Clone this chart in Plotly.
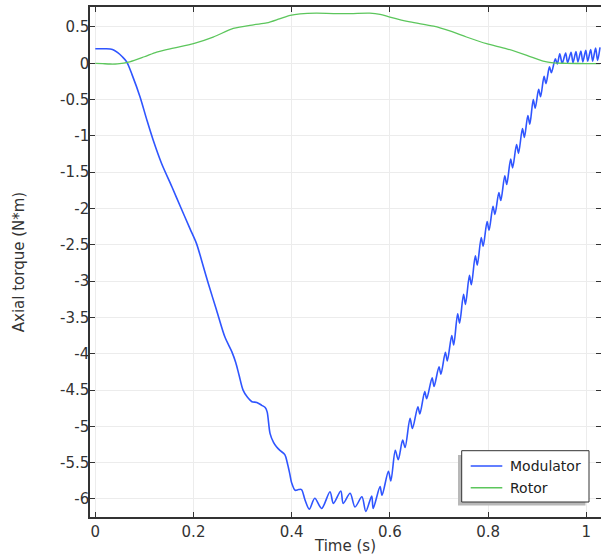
import plotly.graph_objects as go

# ---------------- data ----------------
mod_t = [0.000, 0.020, 0.035, 0.045, 0.055, 0.064, 0.075, 0.091, 0.105, 0.118, 0.135,
         0.156, 0.175, 0.193, 0.206, 0.218, 0.230, 0.247, 0.264, 0.278, 0.286, 0.293,
         0.301, 0.310, 0.319, 0.329, 0.339, 0.346, 0.350, 0.356, 0.363, 0.369, 0.376,
         0.386, 0.391, 0.396, 0.400, 0.407, 0.414, 0.420, 0.427, 0.436,
         0.447, 0.461, 0.478, 0.485, 0.500, 0.505, 0.519, 0.529, 0.543, 0.551,
         0.563, 0.566, 0.580, 0.584, 0.597, 0.602, 0.611, 0.617, 0.626, 0.631,
         0.641, 0.646, 0.657, 0.661, 0.671, 0.675, 0.686, 0.690, 0.700, 0.704,
         0.713, 0.717, 0.726, 0.730, 0.738, 0.742, 0.750, 0.754, 0.762, 0.766,
         0.774, 0.778, 0.786, 0.790, 0.798, 0.802, 0.810, 0.814, 0.822, 0.826,
         0.834, 0.838, 0.846, 0.850, 0.858, 0.862, 0.870, 0.874, 0.881, 0.885,
         0.892, 0.896, 0.903, 0.907, 0.914, 0.918, 0.925, 0.929, 0.937, 0.941,
         0.946, 0.951, 0.958, 0.962, 0.969, 0.973, 0.979, 0.983, 0.989, 0.993,
         0.999, 1.003, 1.009, 1.013, 1.019, 1.023, 1.028]
mod_v = [0.20, 0.20, 0.19, 0.15, 0.09, 0.02, -0.16, -0.46, -0.78, -1.06, -1.38,
         -1.70, -2.00, -2.28, -2.48, -2.75, -3.03, -3.40, -3.77, -3.97, -4.12, -4.30,
         -4.50, -4.60, -4.66, -4.67, -4.71, -4.74, -4.80, -5.10, -5.22, -5.28, -5.33,
         -5.39, -5.50, -5.65, -5.78, -5.88, -5.87, -5.87, -6.01, -6.14,
         -5.99, -6.13, -5.90, -6.06, -5.89, -6.06, -5.92, -6.11, -5.97, -6.17,
         -5.96, -6.13, -5.83, -5.95, -5.62, -5.75, -5.33, -5.46, -5.19, -5.29,
         -4.89, -5.03, -4.73, -4.83, -4.52, -4.62, -4.33, -4.45, -4.18, -4.28,
         -3.98, -4.10, -3.75, -3.88, -3.45, -3.58, -3.18, -3.32, -2.92, -3.05,
         -2.65, -2.78, -2.40, -2.52, -2.18, -2.30, -1.97, -2.08, -1.78, -1.89,
         -1.55, -1.67, -1.32, -1.44, -1.12, -1.24, -0.90, -1.02, -0.72, -0.84,
         -0.50, -0.62, -0.36, -0.46, -0.18, -0.28, -0.05, -0.13, 0.06, -0.01,
         0.13, 0.00, 0.14, 0.01, 0.15, 0.01, 0.16, 0.02, 0.17, 0.02,
         0.18, 0.03, 0.19, 0.03, 0.21, 0.04, 0.22]

rot_t = [0.000, 0.015, 0.030, 0.045, 0.070, 0.100, 0.125, 0.159, 0.200, 0.240, 0.281,
         0.322, 0.349, 0.375, 0.397, 0.417, 0.450, 0.485, 0.520, 0.559, 0.580,
         0.600, 0.641, 0.689, 0.722, 0.756, 0.797, 0.838, 0.879, 0.912, 0.933,
         0.960, 1.000, 1.028]
rot_v = [0.000, -0.005, -0.010, -0.008, 0.020, 0.090, 0.155, 0.210, 0.270, 0.360, 0.480,
         0.530, 0.555, 0.610, 0.660, 0.680, 0.690, 0.685, 0.685, 0.690, 0.674,
         0.637, 0.570, 0.510, 0.445, 0.362, 0.270, 0.200, 0.110, 0.030, 0.005,
         0.000, -0.005, -0.005]

series_names = ["Modulator", "Rotor"]
series_colors = ["#2f55ff", "#5cc65c"]

x_ticks = [0, 0.2, 0.4, 0.6, 0.8, 1]
x_tick_text = ["0", "0.2", "0.4", "0.6", "0.8", "1"]
y_ticks = [0.5, 0, -0.5, -1, -1.5, -2, -2.5, -3, -3.5, -4, -4.5, -5, -5.5, -6]
y_tick_text = ["0.5", "0", "-0.5", "-1", "-1.5", "-2", "-2.5", "-3", "-3.5", "-4",
               "-4.5", "-5", "-5.5", "-6"]

# ---------------- figure ----------------
W, H = 601, 555
ML, MR, MT, MB = 90, 0, 7, 38
XR = [-0.0108, 1.030]
YR = [-6.248, 0.775]
FONT = "DejaVu Sans"
TXT = "#333333"

fig = go.Figure()
fig.add_trace(go.Scatter(x=mod_t, y=mod_v, mode="lines", name=series_names[0],
                         line=dict(color=series_colors[0], width=1.6, shape="spline", smoothing=0.85),
                         xaxis="x", yaxis="y", showlegend=False))
fig.add_trace(go.Scatter(x=rot_t, y=rot_v, mode="lines", name=series_names[1],
                         line=dict(color=series_colors[1], width=1.3, shape="spline", smoothing=0.8),
                         xaxis="x", yaxis="y2", showlegend=False))

# ---- hand-drawn legend box (paper coords) ----
pw, ph = W - ML - MR, H - MT - MB
def pxx(px):
    return (px - ML) / pw
def pxy(py):
    return (H - MB - py) / ph

fig.add_shape(type="rect", xref="paper", yref="paper",
              x0=pxx(458), x1=pxx(585.5), y0=pxy(505.5), y1=pxy(455),
              line=dict(width=0), fillcolor="#b8b8b8", layer="above")
fig.add_shape(type="rect", xref="paper", yref="paper",
              x0=pxx(461.7), x1=pxx(589), y0=pxy(502), y1=pxy(450.7),
              line=dict(width=1, color="#333333"), fillcolor="white", layer="above")
row_y = [466, 487.7]
for i in range(2):
    fig.add_shape(type="line", xref="paper", yref="paper",
                  x0=pxx(470.7), x1=pxx(502.3), y0=pxy(row_y[i]), y1=pxy(row_y[i]),
                  line=dict(width=1.5, color=series_colors[i]), layer="above")
    fig.add_annotation(xref="paper", yref="paper", x=pxx(507.5), y=pxy(row_y[i]),
                       xanchor="left", yanchor="middle", showarrow=False,
                       text=series_names[i],
                       font=dict(family=FONT, size=14, color="#222222"))

fig.update_layout(
    width=W, height=H,
    margin=dict(l=ML, r=MR, t=MT, b=MB, pad=0),
    paper_bgcolor="white", plot_bgcolor="white",
    font=dict(family=FONT, size=15, color=TXT),
    showlegend=False,
    xaxis=dict(range=XR, tickvals=x_ticks, ticktext=x_tick_text, automargin=False,
               showgrid=True, gridcolor="#ececec", gridwidth=1,
               zeroline=False, showline=True, linecolor="#333333", linewidth=1.5,
               mirror="ticks", ticks="inside", ticklen=5, tickcolor="#333333",
               tickfont=dict(family=FONT, size=15, color=TXT),
               title=dict(text="Time (s)", standoff=7,
                          font=dict(family=FONT, size=15, color=TXT))),
    yaxis=dict(range=YR, tickvals=y_ticks, ticktext=y_tick_text, automargin=False,
               showgrid=True, gridcolor="#ececec", gridwidth=1,
               zeroline=False, showline=True, linecolor="#333333", linewidth=1.5,
               mirror=False, ticks="inside", ticklen=5, tickcolor="#333333",
               ticklabelstandoff=-4,
               tickfont=dict(family=FONT, size=15, color=TXT),
               title=dict(text="Axial torque (N*m)", standoff=32,
                          font=dict(family=FONT, size=15, color=TXT))),
    yaxis2=dict(range=YR, overlaying="y", side="right", anchor="x", automargin=False,
                tickvals=y_ticks, showticklabels=False, showgrid=False,
                zeroline=False, showline=False, ticks="inside", ticklen=5,
                tickcolor="#333333"),
)

fig.write_html("out.html")
